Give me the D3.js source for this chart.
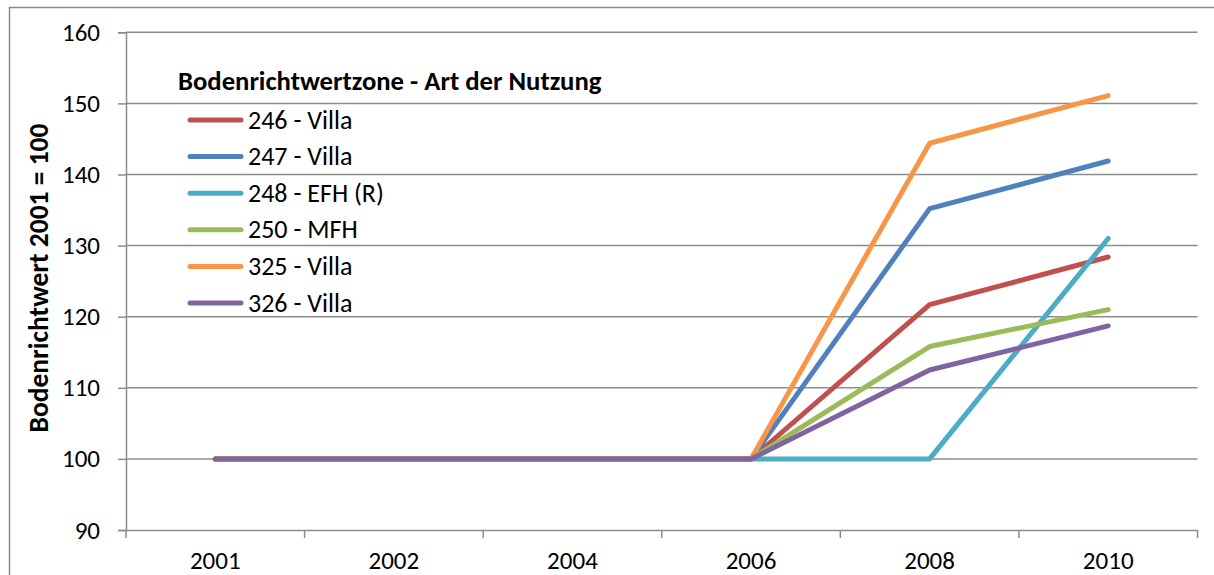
<!DOCTYPE html>
<html>
<head>
<meta charset="utf-8">
<script src="https://cdn.jsdelivr.net/npm/d3@7"></script>
<style>
  body { margin: 0; background: #fff; }
  svg { display: block; font-family: Carlito, Calibri, Lato, "Liberation Sans", sans-serif; }
</style>
</head>
<body>
<div id="chart"></div>
<script>
// categories on the x axis
var years = ["2001", "2002", "2004", "2006", "2008", "2010"];
// y axis ticks
var yTicks = [90, 100, 110, 120, 130, 140, 150, 160];

// one array per zone
var z246 = [100, 100, 100, 100, 121.7, 128.4];
var z247 = [100, 100, 100, 100, 135.2, 141.9];
var z248 = [100, 100, 100, 100, 100, 131.0];
var z250 = [100, 100, 100, 100, 115.8, 121.0];
var z325 = [100, 100, 100, 100, 144.4, 151.1];
var z326 = [100, 100, 100, 100, 112.5, 118.7];

var seriesNames = ["246 - Villa", "247 - Villa", "248 - EFH (R)", "250 - MFH", "325 - Villa", "326 - Villa"];
var seriesValues = [z246, z247, z248, z250, z325, z326];
var seriesColors = ["#C0504D", "#4F81BD", "#4BACC6", "#9BBB59", "#F79646", "#8064A2"];

var W = 1214, H = 575;
var m = {l: 126, r: 16.5, t: 32.3, b: 45};
var font = "Carlito, Calibri, Lato, 'Liberation Sans', sans-serif";

var svg = d3.select("#chart").append("svg")
    .attr("width", W).attr("height", H);

// outer chart border (continues past the picture on right and bottom)
svg.append("rect")
    .attr("x", 9.5).attr("y", 7.5)
    .attr("width", 1300).attr("height", 700)
    .attr("fill", "none").attr("stroke", "#8c8c8c").attr("stroke-width", 1.5);

var x = d3.scaleBand().domain(years).range([m.l, W - m.r]).padding(0);
var y = d3.scaleLinear().domain([90, 160]).range([H - m.b, m.t]);

// horizontal grid lines
svg.append("g").selectAll("line").data(yTicks.filter(function(d){ return d > 90; })).enter()
    .append("line")
    .attr("x1", m.l).attr("x2", W - m.r)
    .attr("y1", function(d){ return y(d); }).attr("y2", function(d){ return y(d); })
    .attr("stroke", "#8c8c8c").attr("stroke-width", 1.5);

// y axis
var yAxis = svg.append("g")
    .attr("transform", "translate(" + m.l + ",0)")
    .call(d3.axisLeft(y).tickValues(yTicks).tickSize(8).tickPadding(18));

// x axis, ticks between categories
var xAxis = svg.append("g")
    .attr("transform", "translate(0," + y(90) + ")")
    .call(d3.axisBottom(x).tickSize(0).tickPadding(21));
var bounds = years.map(function(d){ return x(d); }).concat([x(years[years.length - 1]) + x.bandwidth()]);
xAxis.selectAll(".sep").data(bounds).enter().append("line")
    .attr("class", "sep")
    .attr("x1", function(d){ return d; }).attr("x2", function(d){ return d; })
    .attr("y1", 0).attr("y2", 8)
    .attr("stroke", "#8c8c8c").attr("stroke-width", 1.5);

[yAxis, xAxis].forEach(function(a){
    a.attr("font-family", font).attr("font-size", 25);
    a.selectAll("text").attr("fill", "#000");
    a.select(".domain").attr("stroke", "#8c8c8c").attr("stroke-width", 1.5);
    a.selectAll(".tick line").attr("stroke", "#8c8c8c").attr("stroke-width", 1.5);
});

// y axis title
svg.append("text")
    .attr("transform", "translate(47.5,278) rotate(-90)")
    .attr("text-anchor", "middle")
    .style("font-size", "27.5px").style("font-weight", "bold")
    .text("Bodenrichtwert 2001 = 100");

// lines
var line = d3.line()
    .x(function(d, i){ return x(years[i]) + x.bandwidth() / 2; })
    .y(function(d){ return y(d); });

svg.append("g").selectAll("path").data(seriesValues).enter()
    .append("path")
    .attr("d", line)
    .attr("fill", "none")
    .attr("stroke", function(d, i){ return seriesColors[i]; })
    .attr("stroke-width", 5)
    .attr("stroke-linejoin", "round")
    .attr("stroke-linecap", "round");

// legend
var leg = svg.append("g");
leg.append("text")
    .attr("x", 178).attr("y", 90)
    .style("font-size", "26.7px").style("font-weight", "bold")
    .text("Bodenrichtwertzone - Art der Nutzung");

var rows = leg.selectAll(".row").data(seriesNames).enter()
    .append("g").attr("class", "row")
    .attr("transform", function(d, i){ return "translate(0," + (120 + i * 36.6) + ")"; });
rows.append("line")
    .attr("x1", 190).attr("x2", 241)
    .attr("stroke", function(d, i){ return seriesColors[i]; })
    .attr("stroke-width", 5).attr("stroke-linecap", "round");
rows.append("text")
    .attr("x", 248).attr("y", 8.5)
    .style("font-size", "26px")
    .text(function(d){ return d; });
</script>
</body>
</html>
